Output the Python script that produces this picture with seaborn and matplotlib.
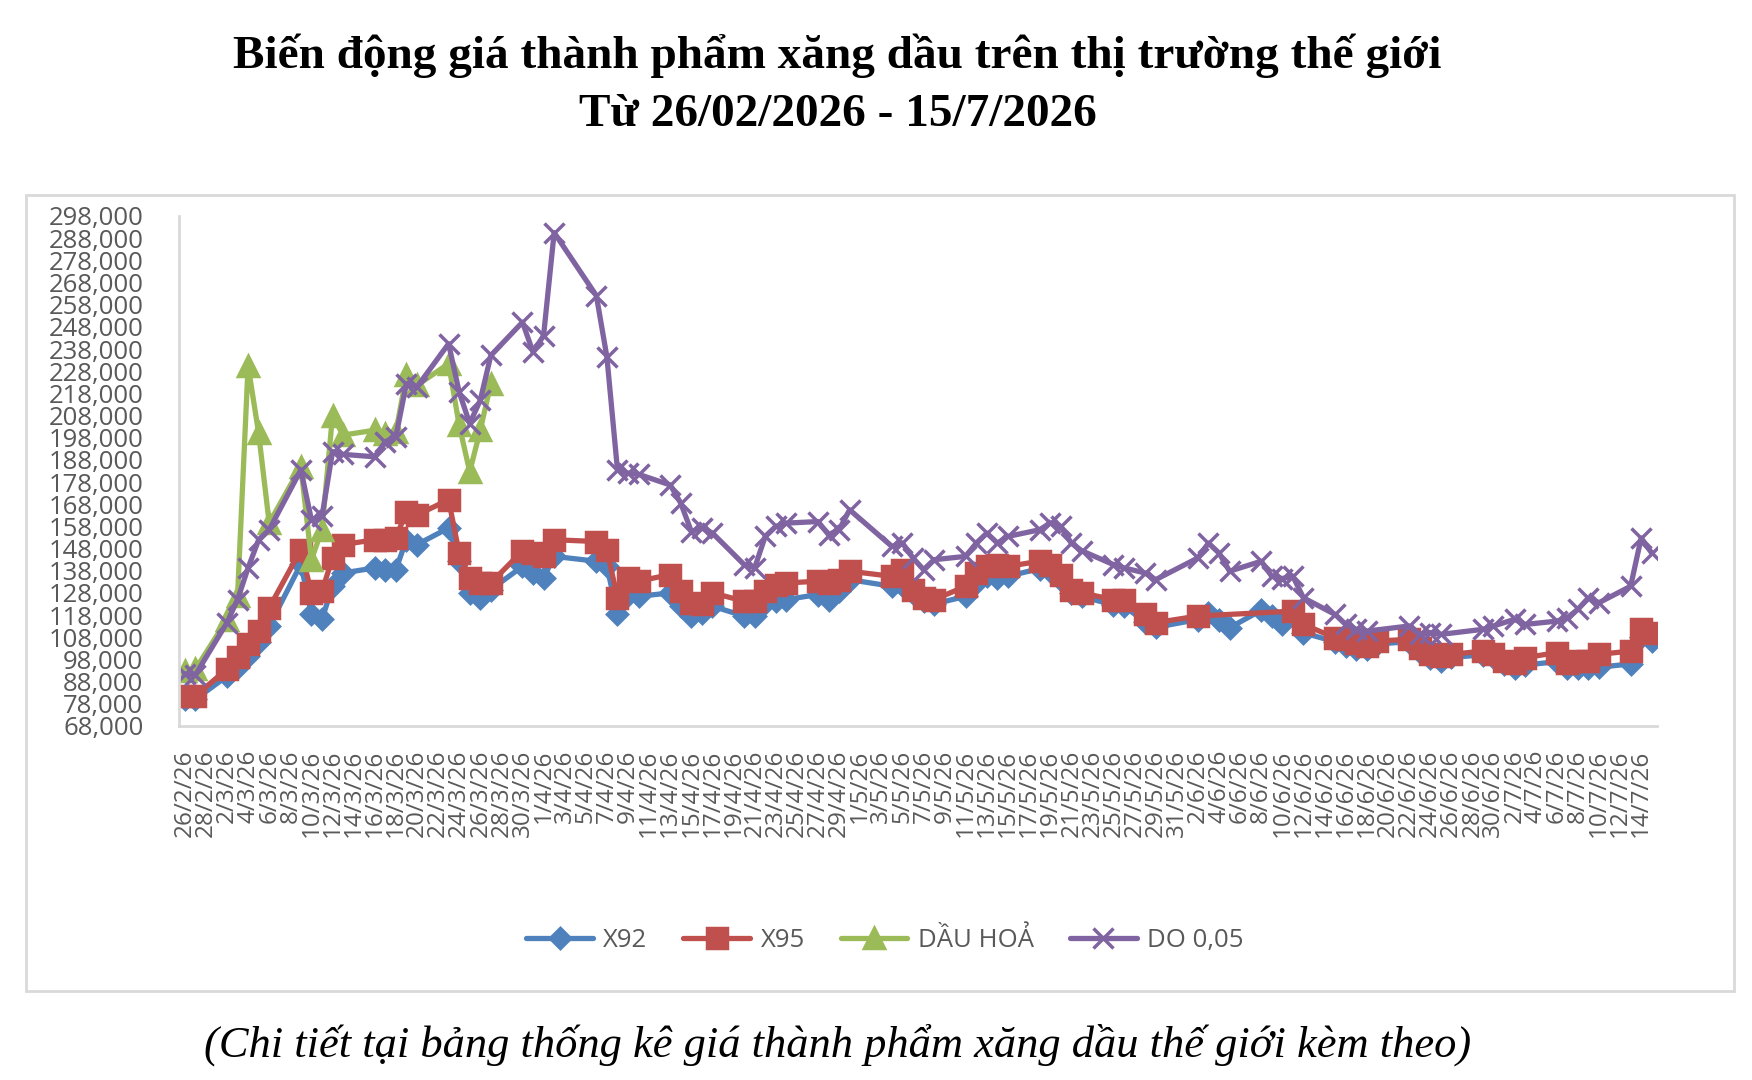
import matplotlib
matplotlib.use("Agg")
import pandas as pd
import matplotlib.pyplot as plt
from matplotlib.patches import Rectangle
import seaborn as sns

# --- Data (VND) ---
DATES = [
    "26/2", "27/2",
    "2/3", "3/3", "4/3", "5/3", "6/3",
    "9/3", "10/3", "11/3", "12/3", "13/3",
    "16/3", "17/3", "18/3", "19/3", "20/3",
    "23/3", "24/3", "25/3", "26/3", "27/3",
    "30/3", "31/3", "1/4", "2/4",
    "6/4", "7/4", "8/4", "9/4", "10/4",
    "13/4", "14/4", "15/4", "16/4", "17/4",
    "20/4", "21/4", "22/4", "23/4", "24/4",
    "27/4", "28/4", "29/4", "30/4",
    "4/5", "5/5", "6/5", "7/5", "8/5",
    "11/5", "12/5", "13/5", "14/5", "15/5",
    "18/5", "19/5", "20/5", "21/5", "22/5",
    "25/5", "26/5", "28/5", "29/5",
    "2/6", "3/6", "4/6", "5/6",
    "8/6", "9/6", "10/6", "11/6", "12/6",
    "15/6", "16/6", "17/6", "18/6", "19/6",
    "22/6", "23/6", "24/6", "25/6", "26/6",
    "29/6", "30/6", "1/7", "2/7", "3/7",
    "6/7", "7/7", "8/7", "9/7", "10/7",
    "13/7", "14/7", "15/7",
]

X92 = [
    80000, 80000,
    90500, 94500, 99500, 106000, 113000,
    141000, 118300, 116100, 131000, 137000,
    139300, 138500, 138500, 152000, 149800,
    157300, 142300, 128000, 125800, 129500,
    140000, 137000, 134800, 144500,
    142300, 140000, 118300, 127000, 126500,
    128000, 122000, 117600, 119100, 122000,
    117600, 117600, 123600, 124300, 125000,
    127300, 125000, 128800, 134000,
    131000, 131800, 128000, 124300, 123000,
    126500, 132500, 135500, 134800, 135500,
    139000, 138000, 134000, 128000, 126500,
    122500, 122000, 115000, 112500,
    116000, 119000, 116000, 112300,
    120200, 117600, 113800, 117500, 110000,
    106000, 104000, 102500, 102500, 105000,
    106000, 101500, 98500, 97500, 99000,
    100000, 99000, 96000, 94000, 95500,
    97000, 94000, 94000, 94000, 94500,
    96000, 108000, 106500,
]

X95 = [
    81600, 81600,
    93600, 98900, 104800, 110800, 121300,
    147500, 128000, 128800, 143800, 149800,
    152000, 152000, 152800, 164700, 163200,
    170000, 146000, 134800, 132500, 132500,
    147000, 146000, 144500, 152000,
    151200, 147500, 125800, 134800, 133300,
    136300, 128800, 123600, 122800, 128000,
    124300, 124300, 128800, 131800, 132500,
    133300, 132500, 134000, 137800,
    135500, 138500, 129500, 125800, 125000,
    131000, 137000, 140000, 140800, 140000,
    142300, 140800, 136300, 129500, 128000,
    125000, 125000, 118300, 114600,
    117600, None, None, None,
    None, None, None, 119800, 113800,
    107800, 107100, 105600, 104100, 106300,
    107100, 103300, 100300, 99600, 100300,
    101800, 100300, 97300, 96600, 98800,
    101100, 96600, 97300, 97500, 100300,
    101800, 111600, 110100,
]

DAU_HOA = [
    93000, 93500,
    116000, 126500, 230500, 200000, 159500,
    185000, 143000, 156500, 208000, 199200,
    201400, 199900, 200500, 226100, 221600,
    231400, 203700, 182700, 201400, 222400,
] + [None] * 74

DO_005 = [
    91500, 91000,
    114600, 125000, 139300, 152000, 156500,
    183500, 161000, 162500, 191700, 190500,
    189400, 196200, 198400, 222400, 220900,
    240400, 218600, 204400, 214900, 235100,
    250100, 236600, 244100, 290500,
    262100, 234400, 183500, 182000, 181500,
    176700, 168500, 155700, 157300, 155000,
    140800, 139300, 153500, 158000, 159500,
    160200, 154300, 156500, 165500,
    149000, 150500, 143800, 138500, 143000,
    144500, 150500, 155000, 150500, 153500,
    156500, 159500, 158000, 150500, 147000,
    140800, 139300, 137000, 134000,
    143800, 150500, 146000, 137800,
    142300, 135500, 134500, 135500, 125800,
    118300, 113800, 111600, 110800, None,
    113100, 109300, 110100, 109300, None,
    111600, 113100, None, 116100, 113800,
    115300, 116800, 120600, 125800, 123600,
    131000, 152800, 146000,
]

SERIES = ["X92", "X95", "DẦU HOẢ", "DO 0,05"]
COLORS = ["#4F81BD", "#C0504D", "#9BBB59", "#8064A2"]
MARKERS = ["D", "s", "^", "x"]
MARKER_SIZES = [10.5, 14, 14, 14]

TITLE_1 = "Biến động giá thành phẩm xăng dầu trên thị trường thế giới"
TITLE_2 = "Từ 26/02/2026 - 15/7/2026"
FOOTER = "(Chi tiết tại bảng thống kê giá thành phẩm xăng dầu thế giới kèm theo)"

# --- Build long-form frame ---
dates = pd.to_datetime([d + "/2026" for d in DATES], format="%d/%m/%Y")
wide = pd.DataFrame({"date": dates, SERIES[0]: X92, SERIES[1]: X95,
                     SERIES[2]: DAU_HOA, SERIES[3]: DO_005})
df = wide.melt(id_vars="date", var_name="series", value_name="price")
df = df.dropna(subset=["price"])
df["price"] = df["price"].astype(float)

# --- Style ---
sns.set_theme(style="white")
plt.rcParams["font.family"] = ["Open Sans", "DejaVu Sans"]
GREY_TEXT = "#595959"
GREY_LINE = "#D9D9D9"

fig = plt.figure(figsize=(17.52, 10.8), dpi=100)
ax = fig.add_axes([0.10245, 0.32778, 0.84332, 0.47222])

sns.lineplot(data=df, x="date", y="price", hue="series",
             hue_order=SERIES, palette=dict(zip(SERIES, COLORS)),
             estimator=None, sort=True, linewidth=3.8,
             legend=False, ax=ax)

# Excel-like markers per series (seaborn won't mix filled and line-art ones)
lines = [l for l in ax.get_lines()][:len(SERIES)]
for line, color, marker, ms in zip(lines, COLORS, MARKERS, MARKER_SIZES):
    line.set_marker(marker)
    line.set_markersize(ms)
    line.set_markeredgecolor(color)
    line.set_markerfacecolor(color)
    line.set_markeredgewidth(2.5)
    line.set_solid_joinstyle("round")

# axes ranges and ticks
start, end = dates.min(), dates.max()
ax.set_xlim(start - pd.Timedelta(hours=12), end + pd.Timedelta(hours=12))
ax.set_ylim(68000, 298000)

yticks = list(range(68000, 298001, 10000))
ax.set_yticks(yticks)
ax.set_yticklabels([f"{v:,}" for v in yticks], fontsize=18.5, color=GREY_TEXT)

xticks = pd.date_range(start, end, freq="2D")
ax.set_xticks(xticks)
ax.set_xticklabels([f"{d.day}/{d.month}/{d:%y}" for d in xticks],
                   rotation=90, fontsize=17.5, color=GREY_TEXT)
ax.tick_params(axis="both", length=0)
ax.tick_params(axis="y", pad=26)
ax.tick_params(axis="x", pad=17)
ax.set_xlabel("")
ax.set_ylabel("")
ax.grid(False)

for side in ["top", "right"]:
    ax.spines[side].set_visible(False)
for side in ["left", "bottom"]:
    ax.spines[side].set_color(GREY_LINE)
    ax.spines[side].set_linewidth(2)

# legend below the axis labels
fig.legend(handles=lines, labels=SERIES, loc="center",
           bbox_to_anchor=(0.505, 0.1296), ncol=4, frameon=False,
           fontsize=18.5, handlelength=2.6, columnspacing=1.4,
           handletextpad=0.4, numpoints=1, labelcolor=GREY_TEXT)

# chart-area border
fig.patches.append(Rectangle((0.0148, 0.0824), 0.9749, 0.7370,
                             transform=fig.transFigure, fill=False,
                             edgecolor=GREY_LINE, linewidth=2))

# titles and footnote
fig.text(0.478, 1 - 56 / 1080, TITLE_1, ha="center", va="center",
         fontsize=34, fontweight="bold", family="Liberation Serif", color="black")
fig.text(0.478, 1 - 115 / 1080, TITLE_2, ha="center", va="center",
         fontsize=34, fontweight="bold", family="Liberation Serif", color="black")
fig.text(0.478, 1 - 1045 / 1080, FOOTER, ha="center", va="center",
         fontsize=32, style="italic", family="Liberation Serif", color="black")

fig.savefig("out.png", dpi=100)
